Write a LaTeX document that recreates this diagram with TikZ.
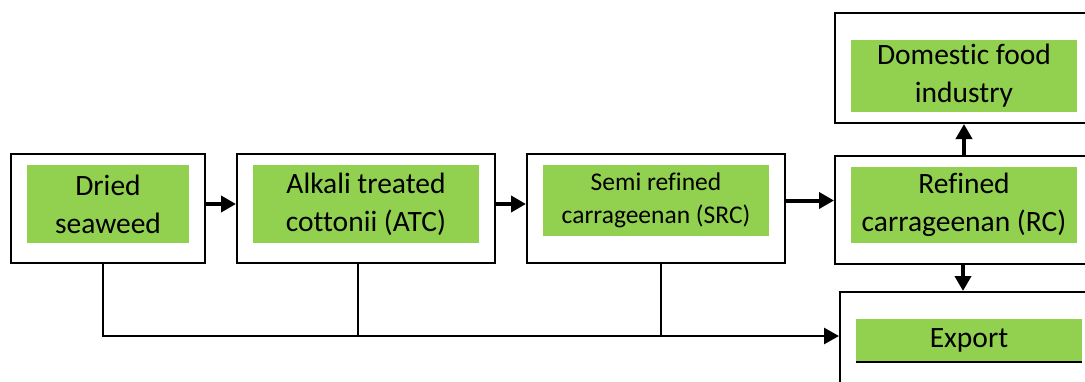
\documentclass[tikz,border=0pt]{standalone}
\usepackage{fontspec}
\setmainfont[Ligatures=NoCommon]{Carlito}
\usetikzlibrary{arrows.meta,positioning,calc}
\definecolor{leaf}{HTML}{92D050}
\tikzset{frame/.style={draw=black,line width=2pt,fill=white,inner sep=0pt,minimum width=258,minimum height=109},label/.style={fill=leaf,align=center,inner sep=0pt,minimum width=226,minimum height=78,font=\fontsize{29.5}{38}\selectfont},arrow/.style={-{Triangle[length=15pt,width=16pt]},line width=4pt},link/.style={line width=2.8pt}}
\begin{document}
\begin{tikzpicture}[x=1pt,y=-1pt,small/.style={label,font=\fontsize{25.5}{33}\selectfont}]
\clip (0,0) rectangle (1085,381);
\fill[white] (0,0) rectangle (1085,381);
\node[frame,minimum width=194] (dry) at (108,208.5) {};
\node[label,minimum width=162] (dryt) at (108,204) {Dried\\seaweed};
\node[frame] (atc) at (366,208.5) {};
\node[label] (atct) at (366,204) {Alkali treated\\cottonii (ATC)};
\node[frame] (src) at (656,208.5) {};
\node[small,minimum height=71] (srct) at (656,200.5) {Semi refined\\carrageenan (SRC)};
\node[frame,minimum height=108] (rc) at (964,210) {};
\node[label,minimum height=76] (rct) at (964,205) {Refined\\carrageenan (RC)};
\node[frame,minimum height=110] (dom) at (964,68) {};
\node[label,minimum height=72] (domt) at (964,76) {Domestic food\\industry};
\node[frame,minimum height=176] (exp) at (969,380) {};
\node[label,minimum height=43] (expt) at (969,340.5) {Export};
\draw[line width=2.5pt] (expt.south west) -- (expt.south east);
% flow
\foreach \a/\b in {dry/atc,atc/src,src/rc}{\draw[arrow] (\a.east |- \a t) -- (\b.west |- \a t);}
\draw[arrow] (rc.north) -- (dom.south);
\draw[arrow] ([xshift=-1pt]rc.south) -- ([xshift=-6pt]exp.north);
% export line
\coordinate (j1) at (103,336);
\coordinate (j2) at (358,336);
\coordinate (j3) at (661,336);
\draw[link] (dry.south -| j1) -- (j1) -- (j3);
\draw[link,-{Triangle[length=15pt,width=16pt]}] (j3) -- (exp.west |- j3);
\draw[link] (atc.south -| j2) -- (j2);
\draw[link] (src.south -| j3) -- (j3);
\end{tikzpicture}
\end{document}
